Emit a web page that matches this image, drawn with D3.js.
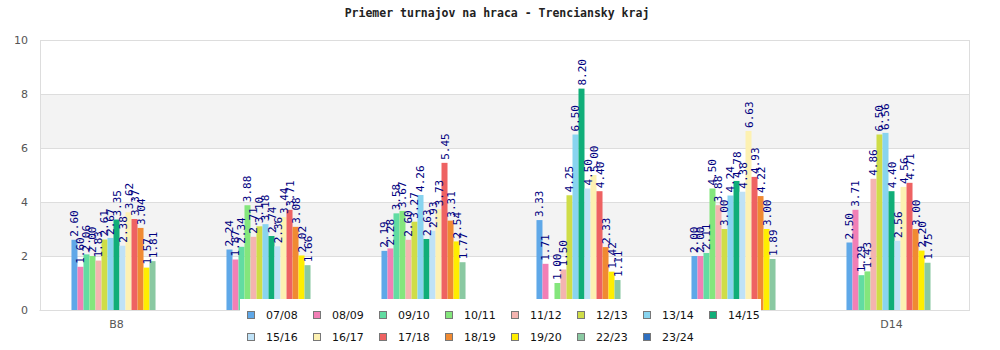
<!DOCTYPE html>
<html><head><meta charset="utf-8">
<script src="https://cdn.jsdelivr.net/npm/d3@7"></script>
<style>body{margin:0;background:#fff}svg{display:block}</style>
</head><body><svg id="c" width="1000" height="350"></svg>
<script>
const title = "Priemer turnajov na hraca - Trenciansky kraj";
const categories = ["B8", "B10", "C12", "C14", "D12", "D14"];
const seriesNames = ["07/08","08/09","09/10","10/11","11/12","12/13","13/14","14/15","15/16","16/17","17/18","18/19","19/20","22/23","23/24"];
const seriesColors = ["#5fa8e8","#f27fb6","#62dca2","#84e67c","#f4b4b0","#cfdd48","#88d4ef","#10ae78","#bfe2f7","#fdf1b2","#ee6262","#f08a32","#ffee00","#8ac9a2","#2f6fbf"];
const v0708 = [2.60, 2.24, 2.19, 3.33, 2.00, 2.50];
const v0809 = [1.60, 1.87, 2.28, 1.71, 2.00, 3.71];
const v0910 = [2.06, 2.34, 3.58, null, 2.11, 1.29];
const v1011 = [2.00, 3.88, 3.67, 1.00, 4.50, 1.43];
const v1112 = [1.83, 2.71, 2.60, 1.50, 3.88, 4.86];
const v1213 = [2.61, 3.10, 3.27, 4.25, 3.00, 6.50];
const v1314 = [2.67, 3.18, 4.26, 6.50, 4.24, 6.56];
const v1415 = [3.35, 2.74, 2.63, 8.20, 4.78, 4.40];
const v1516 = [2.38, 2.36, 2.93, 4.50, 4.38, 2.56];
const v1617 = [3.62, 3.44, 3.73, 5.00, 6.63, 4.56];
const v1718 = [3.37, 3.71, 5.45, 4.40, 4.93, 4.71];
const v1819 = [3.04, 3.08, 3.31, 2.33, 4.22, 3.00];
const v1920 = [1.57, 2.02, 2.54, 1.42, 3.00, 2.20];
const v2223 = [1.81, 1.66, 1.77, 1.11, 1.89, 1.75];
const v2324 = [null, null, null, null, null, null];
const yTicks = [0, 2, 4, 6, 8, 10];

const seriesValues = [v0708,v0809,v0910,v1011,v1112,v1213,v1314,v1415,v1516,v1617,v1718,v1819,v1920,v2223,v2324];

const svg = d3.select("#c");
const L = 40, R = 970, T = 40, B = 310;
const legendBox = {x: 240, y: 299, w: 521, h: 51};

const y = d3.scaleLinear().domain([0, 10]).range([B, T]);
const x0 = d3.scaleBand().domain(categories).range([L - 1, R - 1]).paddingInner(0.419).paddingOuter(0.2095);
const x1 = d3.scaleBand().domain(seriesNames).range([0, x0.bandwidth()]);

// bands
const g = svg.append("g");
for (let i = 0; i < yTicks.length - 1; i++) {
  if (i % 2 === 1) {
    g.append("rect").attr("x", L).attr("y", y(yTicks[i+1])).attr("width", R - L)
      .attr("height", y(yTicks[i]) - y(yTicks[i+1])).attr("fill", "#f3f3f3");
  }
}
// grid
const yAxis = d3.axisLeft(y).tickValues(yTicks).tickSize(-(R - L)).tickPadding(12);
const ya = svg.append("g").attr("transform", `translate(${L},0)`).call(yAxis);
ya.select(".domain").remove();
ya.selectAll(".tick line").attr("stroke", "#dddddd");
ya.selectAll(".tick text").attr("fill", "#555").style("font-family", "DejaVu Sans, sans-serif").style("font-size", "11px");
svg.append("line").attr("x1", L + 0.5).attr("x2", L + 0.5).attr("y1", T).attr("y2", B).attr("stroke", "#dddddd");
svg.append("line").attr("x1", R - 0.5).attr("x2", R - 0.5).attr("y1", T).attr("y2", B).attr("stroke", "#dddddd");

// x axis (labels hidden under the legend box are not visible in the reference)
const xAxis = d3.axisBottom(x0).tickSize(0).tickPadding(10);
const xa = svg.append("g").attr("transform", `translate(0,${B})`).call(xAxis);
xa.select(".domain").attr("stroke", "#dddddd");
xa.selectAll(".tick").filter(d => {
  const cx = x0(d) + x0.bandwidth() / 2;
  return cx > legendBox.x && cx < legendBox.x + legendBox.w;
}).select("text").remove();
xa.selectAll(".tick text").attr("fill", "#555").style("font-family", "DejaVu Sans, sans-serif").style("font-size", "11px");

// bars
const data = [];
categories.forEach((c, ci) => {
  seriesNames.forEach((s, si) => {
    const v = seriesValues[si][ci];
    if (v !== null) data.push({c, s, v, color: seriesColors[si]});
  });
});
svg.append("g").selectAll("rect").data(data).join("rect")
  .attr("x", d => x0(d.c) + x1(d.s))
  .attr("y", d => y(d.v))
  .attr("width", x1.bandwidth())
  .attr("height", d => y(0) - y(d.v))
  .attr("fill", d => d.color);

svg.append("g").selectAll("text").data(data).join("text")
  .attr("transform", d => `translate(${x0(d.c) + x1(d.s) + x1.bandwidth()/2 + 4},${y(d.v) - 3}) rotate(-90)`)
  .attr("fill", "#000080")
  .style("font-family", "DejaVu Sans Mono, monospace")
  .style("font-size", "11px")
  .text(d => d.v.toFixed(2));

// title
svg.append("text").attr("x", 497).attr("y", 17).attr("text-anchor", "middle")
  .style("font-family", "DejaVu Sans Mono, monospace").style("font-weight", "bold")
  .style("font-size", "11.5px").attr("fill", "#222").text(title);

// legend
const lg = svg.append("g");
lg.append("rect").attr("x", legendBox.x).attr("y", legendBox.y).attr("width", legendBox.w).attr("height", legendBox.h).attr("fill", "#fff");
seriesNames.forEach((s, i) => {
  const row = i < 8 ? 0 : 1;
  const col = i < 8 ? i : i - 8;
  const lx = 247 + col * 66, ly = 311 + row * 22;
  lg.append("rect").attr("x", lx + 0.5).attr("y", ly + 0.5).attr("width", 7).attr("height", 7)
    .attr("fill", seriesColors[i]).attr("stroke", "#777").attr("stroke-width", 1);
  lg.append("text").attr("x", lx + 19).attr("y", ly + 8)
    .style("font-family", "DejaVu Sans, sans-serif").style("font-size", "11px").attr("fill", "#111").text(s);
});
</script></body></html>
